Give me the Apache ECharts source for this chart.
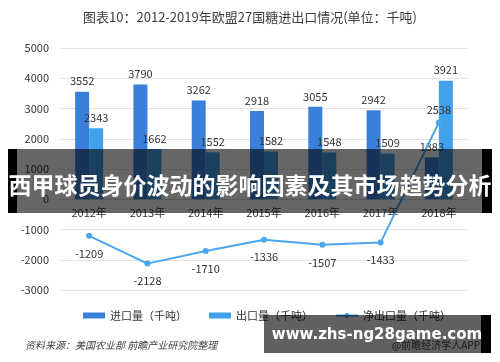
<!DOCTYPE html>
<html><head><meta charset="utf-8">
<script src="https://cdn.jsdelivr.net/npm/echarts@6/dist/echarts.min.js"></script>
<style>html,body{margin:0;padding:0;background:#fff}#c{width:500px;height:362px}</style>
</head><body><div id="c"></div>
<script>
var categories = ['2012年','2013年','2014年','2015年','2016年','2017年','2018年'];
var importVals = [3552, 3790, 3262, 2918, 3055, 2942, 1383];
var exportVals = [2343, 1662, 1552, 1582, 1548, 1509, 3921];
var netVals = [-1209, -2128, -1710, -1336, -1507, -1433, 2538];
var seriesNames = ['进口量（千吨）', '出口量（千吨）', '净出口量（千吨）'];
var titleText = '图表10：2012-2019年欧盟27国糖进出口情况(单位：千吨)';
var sourceText = '资料来源：美国农业部 前瞻产业研究院整理';
var appText = '@前瞻经济学人APP';
var bannerText = '西甲球员身价波动的影响因素及其市场趋势分析';
var siteText = 'www.zhs-ng28game.com';

var chart = echarts.init(document.getElementById('c'));
var font = '"Noto Sans CJK SC", "Noto Sans", sans-serif';
chart.setOption({
  animation: false,
  textStyle: {fontFamily: font},
  title: {text: titleText, left: 'center', top: 6,
    textStyle: {fontSize: 13, fontWeight: 'normal', color: '#404040', fontFamily: font}},
  legend: {top: 305, left: 78, itemWidth: 22, itemHeight: 6, itemGap: 22,
    textStyle: {fontSize: 11, color: '#333'},
    data: [{name: seriesNames[0], icon: 'rect'}, {name: seriesNames[1], icon: 'rect'}, {name: seriesNames[2]}]},
  grid: {left: 60, right: 32, top: 48, bottom: 72},
  xAxis: {type: 'category', data: categories, position: 'bottom', offset: -91,
    axisLine: {onZero: false, lineStyle: {color: '#d9d9d9'}},
    axisTick: {show: false},
    axisLabel: {fontSize: 11, color: '#333', margin: 8}},
  yAxis: {type: 'value', min: -3000, max: 5000, interval: 1000,
    axisLine: {show: false}, axisTick: {show: false},
    axisLabel: {fontSize: 11, color: '#333', margin: 11, formatter: function(v){ return String(v); }},
    splitLine: {lineStyle: {color: '#e3e3e3'}}},
  series: [
    {name: seriesNames[0], type: 'bar', data: importVals, barWidth: 14, barGap: '0%',
      itemStyle: {color: '#3b7fdc'},
      label: {show: true, position: 'top', fontSize: 11, color: '#333'}},
    {name: seriesNames[1], type: 'bar', data: exportVals, barWidth: 14,
      itemStyle: {color: '#41a1ec'},
      label: {show: true, position: 'top', fontSize: 11, color: '#333'}},
    {name: seriesNames[2], type: 'line', data: netVals.map(function(v){
        return {value: v, label: {position: v < 0 ? 'bottom' : 'top', distance: v < 0 ? 9 : 4}};
      }),
      symbol: 'circle', symbolSize: 6,
      itemStyle: {color: '#4aa6ee'}, lineStyle: {color: '#4aa6ee', width: 2},
      label: {show: true, fontSize: 11, color: '#333'}, z: 5}
  ],
  graphic: [
    {type: 'text', left: 25, top: 340, style: {text: sourceText, fill: '#444', font: 'italic 10px ' + font}},
    {type: 'text', right: 20, top: 340, style: {text: appText, fill: '#444', font: '10px ' + font}},
    {type: 'rect', shape: {x: 8, y: 149, width: 9, height: 64}, style: {fill: '#000'}, z: 100},
    {type: 'rect', shape: {x: 482, y: 149, width: 10, height: 64}, style: {fill: '#000'}, z: 100},
    {type: 'rect', shape: {x: 17, y: 149, width: 465, height: 64}, style: {fill: 'rgba(0,0,0,0.6)'}, z: 100},
    {type: 'text', x: 250, y: 185, z: 101, style: {text: bannerText, fill: '#fff', font: 'bold 23px ' + font, textAlign: 'center', textVerticalAlign: 'middle'}},
    {type: 'rect', shape: {x: 481, y: 315, width: 10, height: 38}, style: {fill: '#000'}, z: 100},
    {type: 'rect', shape: {x: 264, y: 315, width: 217, height: 38}, style: {fill: 'rgba(0,0,0,0.62)'}, z: 100},
    {type: 'text', x: 377, y: 335, z: 101, style: {text: siteText, fill: '#fff', font: 'bold 15px "DejaVu Sans", sans-serif', textAlign: 'center', textVerticalAlign: 'middle'}}
  ]
});
</script></body></html>
